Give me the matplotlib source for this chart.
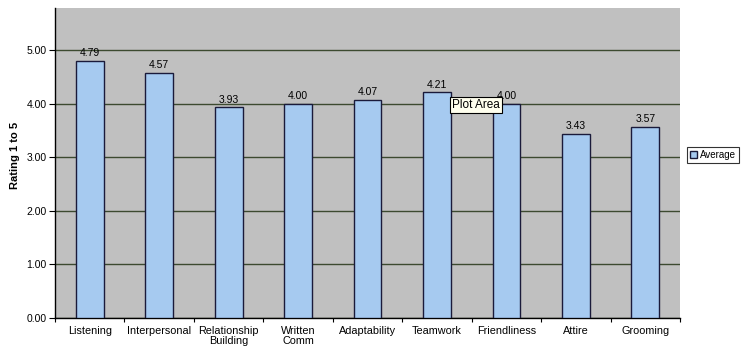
import matplotlib
matplotlib.use("Agg")
import matplotlib.pyplot as plt
from matplotlib.patches import Patch

plt.rcParams['font.family'] = ['Liberation Sans', 'DejaVu Sans']

categories = ["Listening", "Interpersonal", "Relationship\nBuilding", "Written\nComm",
              "Adaptability", "Teamwork", "Friendliness", "Attire", "Grooming"]
values = [4.79, 4.57, 3.93, 4.00, 4.07, 4.21, 4.00, 3.43, 3.57]
yticks = [0, 1, 2, 3, 4, 5]
series_name = "Average"

W, H = 741, 350
fig = plt.figure(figsize=(W / 100, H / 100), dpi=100)
left, right, top, bottom = 55, 680, 8, 318
ax = fig.add_axes([left / W, 1 - bottom / H, (right - left) / W, (bottom - top) / H])
ax.set_facecolor('#c0c0c0')

x = list(range(len(categories)))
bars = ax.bar(x, values, width=0.4, color='#a6caf0', edgecolor='#1a1a3a', linewidth=1.0, zorder=3)
ax.set_xlim(-0.5, len(categories) - 0.5)
ymax = (bottom - top) / ((bottom - 50) / 5.0)
ax.set_ylim(0, ymax)

ax.set_yticks(yticks)
ax.set_yticklabels([f"{v:.2f}" for v in yticks], fontsize=7.5)
ax.yaxis.grid(True, color='#3c4a30', linewidth=1.0, zorder=1)
ax.set_axisbelow(True)

ax.set_xticks(x)
ax.set_xticklabels(categories, fontsize=7.8, linespacing=0.95)
ax.tick_params(axis='x', length=0, pad=6)
ax.set_xticks([i + 0.5 for i in range(-1, len(categories))], minor=True)
ax.tick_params(axis='x', which='minor', length=3, width=0.8, color='black')
ax.tick_params(axis='y', length=4, width=0.8, pad=2)

for s in ['top', 'right']:
    ax.spines[s].set_visible(False)
ax.spines['left'].set_linewidth(1.0)
ax.spines['bottom'].set_linewidth(1.0)

for xi, v in zip(x, values):
    ax.annotate(f"{v:.2f}", (xi, v), xytext=(0, 2), textcoords='offset points',
                ha='center', va='bottom', fontsize=7.5, zorder=4)

fig.text(15 / W, 1 - 155 / H, "Rating 1 to 5", rotation=90, fontsize=8,
         fontweight='bold', ha='center', va='center')

# tooltip
fig.text(476 / W, 1 - 105 / H, "Plot Area", fontsize=8.5, ha='center', va='center',
         bbox=dict(boxstyle='square,pad=0.2', facecolor='#ffffee', edgecolor='black', linewidth=0.8),
         zorder=10)

leg = fig.legend(handles=[Patch(facecolor='#a6caf0', edgecolor='#1a1a3a', label=series_name)],
                 loc='upper left', bbox_to_anchor=(687 / W, 1 - 147 / H), fontsize=7,
                 frameon=True, fancybox=False, edgecolor='black', handlelength=0.7,
                 handleheight=0.7, handletextpad=0.3, borderpad=0.3, borderaxespad=0)
leg.get_frame().set_linewidth(0.8)

fig.savefig("out.png", dpi=100)
